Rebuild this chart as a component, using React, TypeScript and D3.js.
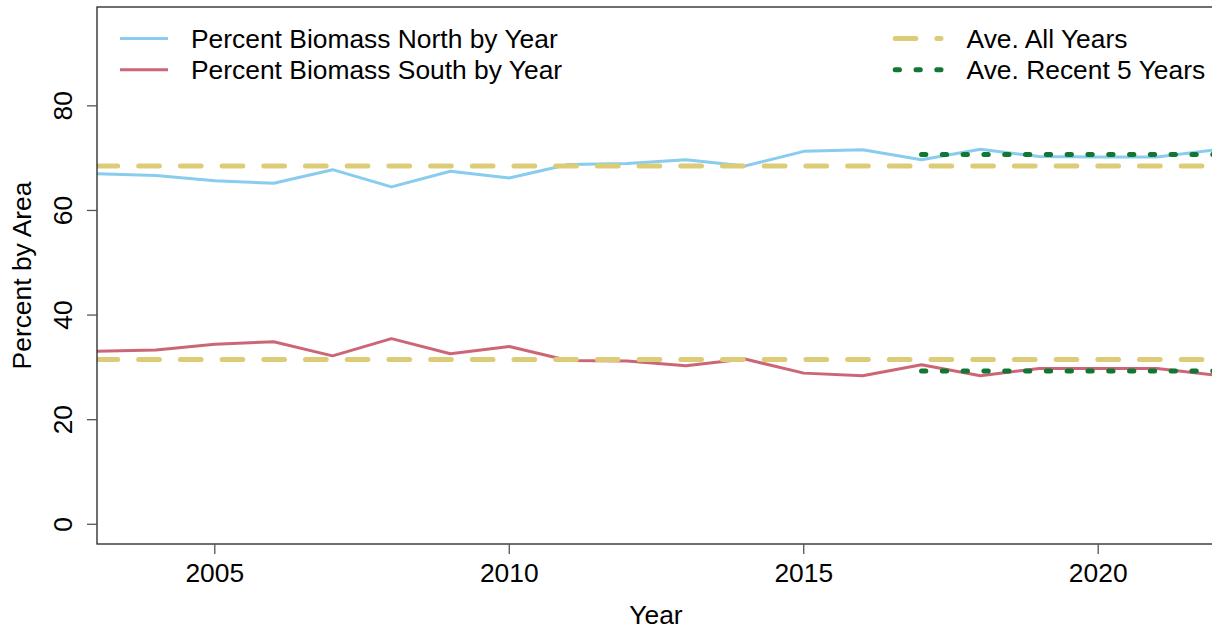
import React from "react";
import * as d3 from "d3";

const years = [2003, 2004, 2005, 2006, 2007, 2008, 2009, 2010, 2011, 2012, 2013, 2014, 2015, 2016, 2017, 2018, 2019, 2020, 2021, 2022];
const north = [67.0, 66.7, 65.7, 65.2, 67.8, 64.5, 67.5, 66.2, 68.8, 69.0, 69.7, 68.5, 71.3, 71.6, 69.7, 71.7, 70.3, 70.2, 70.2, 71.6];
const south = [33.1, 33.3, 34.4, 34.9, 32.2, 35.5, 32.6, 34.0, 31.3, 31.2, 30.3, 31.6, 28.9, 28.4, 30.5, 28.4, 29.8, 29.8, 29.8, 28.5];
const aveAllNorth = 68.5;
const aveAllSouth = 31.5;
const aveRecentNorth = 70.7;
const aveRecentSouth = 29.3;
const recentYears = [2017, 2022];
const allYears = [2003, 2022];
const xTicks = [2005, 2010, 2015, 2020];
const yTicks = [0, 20, 40, 60, 80];
const legendLeft = ["Percent Biomass North by Year", "Percent Biomass South by Year"];
const legendRight = ["Ave. All Years", "Ave. Recent 5 Years"];

const W = 1212;
const H = 631;
const L = 97, R = 1216, T = 7, B = 544;
const BLUE = "#88CCEE", RED = "#CC6677", GOLD = "#DDCC77", GREEN = "#117733";
const FONT = "'Liberation Sans', Arial, Helvetica, sans-serif";
const FS = 26.4;

export default function App() {
  const x = d3.scaleLinear().domain([2003, 2022]).range([L, R]);
  const y = d3.scaleLinear().domain([-3.77, 98.9]).range([B, T]);
  const line = d3.line<[number, number]>().x(d => x(d[0])).y(d => y(d[1]));
  const nPts = years.map((yr, i) => [yr, north[i]] as [number, number]);
  const sPts = years.map((yr, i) => [yr, south[i]] as [number, number]);
  const hl = (xs: number[], v: number) => line(xs.map(xx => [xx, v] as [number, number])) || "";
  const dash = "20.7 21";
  const dot = "4.3 16.5";
  return (
    <svg width={W} height={H} style={{ position: "absolute", left: 0, top: 0, background: "#fff" }} fontFamily={FONT}>
      <defs>
        <clipPath id="plot">
          <rect x={L} y={T} width={R - L} height={B - T} />
        </clipPath>
      </defs>
      <g clipPath="url(#plot)">
        <path d={line(nPts) || ""} fill="none" stroke={BLUE} strokeWidth={3} strokeLinejoin="round" />
        <path d={line(sPts) || ""} fill="none" stroke={RED} strokeWidth={3} strokeLinejoin="round" />
        <path d={hl(allYears, aveAllNorth)} fill="none" stroke={GOLD} strokeWidth={5} strokeDasharray={dash} strokeLinecap="round" />
        <path d={hl(allYears, aveAllSouth)} fill="none" stroke={GOLD} strokeWidth={5} strokeDasharray={dash} strokeLinecap="round" />
        <path d={hl(recentYears, aveRecentNorth)} fill="none" stroke={GREEN} strokeWidth={5} strokeDasharray={dot} strokeLinecap="round" />
        <path d={hl(recentYears, aveRecentSouth)} fill="none" stroke={GREEN} strokeWidth={5} strokeDasharray={dot} strokeLinecap="round" />
      </g>
      <rect x={L} y={T} width={R - L} height={B - T} fill="none" stroke="#222" strokeWidth={1.3} />
      {yTicks.map(t => (
        <g key={"y" + t}>
          <line x1={L - 10} x2={L} y1={y(t)} y2={y(t)} stroke="#555" strokeWidth={1.3} />
          <text transform={`translate(${72},${y(t)}) rotate(-90)`} textAnchor="middle" fontSize={FS} fill="#000">{t}</text>
        </g>
      ))}
      {xTicks.map(t => (
        <g key={"x" + t}>
          <line x1={x(t)} x2={x(t)} y1={B} y2={B + 10} stroke="#555" strokeWidth={1.3} />
          <text x={x(t)} y={582} textAnchor="middle" fontSize={FS} fill="#000">{t}</text>
        </g>
      ))}
      <text x={656} y={624} textAnchor="middle" fontSize={FS} fill="#000">Year</text>
      <text transform={`translate(31,${(T + B) / 2}) rotate(-90)`} textAnchor="middle" fontSize={FS} fill="#000">Percent by Area</text>
      <line x1={120} x2={168} y1={38.5} y2={38.5} stroke={BLUE} strokeWidth={3} />
      <line x1={120} x2={168} y1={69.7} y2={69.7} stroke={RED} strokeWidth={3} />
      <text x={191} y={47.8} fontSize={FS} fill="#000">{legendLeft[0]}</text>
      <text x={191} y={79} fontSize={FS} fill="#000">{legendLeft[1]}</text>
      <line x1={895.2} x2={941} y1={38.5} y2={38.5} stroke={GOLD} strokeWidth={5} strokeDasharray={dash} strokeLinecap="round" />
      <line x1={895.2} x2={941} y1={69.7} y2={69.7} stroke={GREEN} strokeWidth={5} strokeDasharray={dot} strokeLinecap="round" />
      <text x={966.5} y={47.8} fontSize={FS} fill="#000">{legendRight[0]}</text>
      <text x={966.5} y={79} fontSize={FS} fill="#000">{legendRight[1]}</text>
    </svg>
  );
}
